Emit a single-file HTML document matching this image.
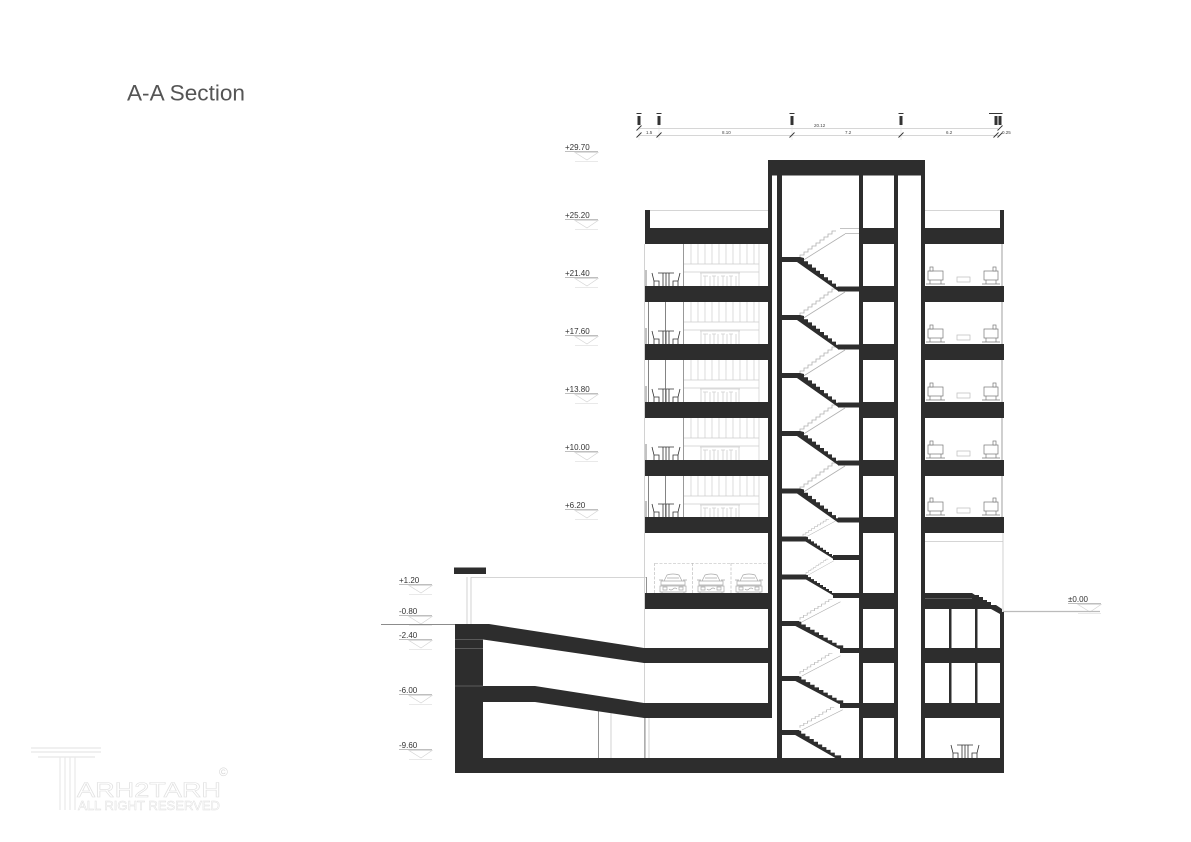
<!DOCTYPE html>
<html><head><meta charset="utf-8"><style>html,body{margin:0;padding:0;background:#fff}svg{display:block}text{font-family:"Liberation Sans",sans-serif}</style></head><body>
<svg width="1191" height="842" viewBox="0 0 1191 842" xmlns="http://www.w3.org/2000/svg">
<defs>
<path id="f" d="M-3,0H0l4,1v3.200h4v3.200h4v3.200h4v3.200h4v3.200h4v3.200h4v3.200h4v3.200h4v3.200H42V34H38L-3,5Z" fill="#2d2d2d"/>
<g id="l" fill="none" stroke="#b0b0b0" stroke-width=".8"><path d="M0,29v-3h4v-3h4v-3h4v-3h4v-3h4v-3h4v-3h4v-3h4v-3h4"/><path d="M2,32L45,5"/></g>
<g id="lev" fill="none"><path d="M0,4.500H33" stroke="#aaa" stroke-width=".7"/><path d="M10,5.500H33L22,13Z" stroke="#d4d4d4" stroke-width=".7"/><path d="M10,14.500H33" stroke="#e2e2e2" stroke-width=".7"/></g>
<g id="tc" fill="none" stroke="#333" stroke-width=".8"><path d="M6,3l2,8v5M8,11h5v5M34,3l-2,8v5M32,11h-5v5"/><path d="M12,3H28M17,3v13M20,3v13M23,3v13"/><path d="M0,0v16" stroke="#666"/></g>
<g id="st" fill="none" stroke="#cfcfcf" stroke-width=".8"><path d="M0,1H40M1,1V14M39,1V14M5,4V14M10,4V14M14,4V14M18,4V14M23,4V14M27,4V14M31,4V14M36,4V14M3,4H8M12,4H16M21,4H25M29,4H33"/></g>
<g id="rm" fill="none" stroke="#cdcdcd" stroke-width=".7"><path d="M691,0V20M698,0V20M705,0V20M712,0V20M719,0V20M726,0V20M733,0V20M740,0V20M747,0V20M754,0V20M759,0V42M684,20H759M684,28H759"/><path d="M683.500,0V42" stroke="#999" stroke-width="1"/><use href="#st" x="700" y="28"/></g>
<g id="so" fill="#fff" stroke="#777" stroke-width=".7"><rect x="928" y="-15" width="15" height="9"/><rect x="930" y="-19" width="3" height="4"/><path d="M930,-6V-2M941,-6V-2M926,-2H945" fill="none"/><rect x="957" y="-9" width="13" height="5" stroke="#bbb"/><rect x="984" y="-15" width="14" height="9"/><rect x="993" y="-19" width="3" height="4"/><path d="M986,-6V-2M996,-6V-2M982,-2H1000" fill="none"/></g>
<g id="car" fill="none" stroke="#a8a8a8" stroke-width=".7"><path d="M6,11L9,5Q15,3 21,5L24,11M1,10h4M25,10h4M3,11H27V15H3ZM9,8H21M2,16H28V22H2ZM4,22v1M26,22v1M5,17h4v3H5ZM21,17h4v3h-4ZM11,19q2,2 4,0t4,0"/></g>
<g id="fm" fill="#333"><rect x="-1.500" y="1" width="3" height="9"/><rect x="-2.500" y="-2" width="5" height="1"/></g>
<path id="tk" d="M-2.500,2.500L2.500,-2.500" stroke="#333" stroke-width=".9"/>
</defs>

<text x="127" y="100.500" font-size="22.500" fill="#555" textLength="118" lengthAdjust="spacingAndGlyphs">A-A Section</text>

<!-- top dimensions -->
<path d="M638,128.500H998M638,135.500H1000" stroke="#c9c9c9" stroke-width=".7"/>
<path d="M639,125V140M659,125V140M792,125V140M901,125V140" stroke="#ddd" stroke-width=".5"/>
<use href="#fm" x="639" y="115"/><use href="#fm" x="659" y="115"/><use href="#fm" x="792" y="115"/><use href="#fm" x="901" y="115"/><use href="#fm" x="996" y="115"/><use href="#fm" x="1000" y="115"/>
<rect x="989" y="113" width="6" height="1" fill="#333"/>
<use href="#tk" x="639" y="128"/><use href="#tk" x="639" y="135"/><use href="#tk" x="659" y="135"/><use href="#tk" x="792" y="135"/><use href="#tk" x="901" y="135"/><use href="#tk" x="996" y="135"/><use href="#tk" x="1000" y="135"/><use href="#tk" x="1000" y="128"/>
<g font-size="4.500" fill="#444">
<text x="646" y="134">1.5</text><text x="722" y="134">8.10</text><text x="845" y="134">7.2</text><text x="946" y="134">6.2</text><text x="1002" y="134">0.25</text><text x="814" y="127">20.12</text>
</g>

<!-- levels -->
<g font-size="8" fill="#333">
<text x="565" y="150">+29.70</text><text x="565" y="218">+25.20</text><text x="565" y="276">+21.40</text><text x="565" y="334">+17.60</text><text x="565" y="392">+13.80</text><text x="565" y="450">+10.00</text><text x="565" y="508">+6.20</text>
<text x="399" y="583">+1.20</text><text x="399" y="614">-0.80</text><text x="399" y="638">-2.40</text><text x="399" y="693">-6.00</text><text x="399" y="748">-9.60</text>
<text x="1068" y="602">±0.00</text>
</g>
<use href="#lev" x="565" y="147"/><use href="#lev" x="565" y="215"/><use href="#lev" x="565" y="273"/><use href="#lev" x="565" y="331"/><use href="#lev" x="565" y="389"/><use href="#lev" x="565" y="447"/><use href="#lev" x="565" y="505"/>
<use href="#lev" x="399" y="580"/><use href="#lev" x="399" y="611"/><use href="#lev" x="399" y="635"/><use href="#lev" x="399" y="690"/><use href="#lev" x="399" y="745"/>
<use href="#lev" x="1068" y="599"/>

<!-- light lines -->
<g fill="none" stroke="#c8c8c8" stroke-width=".8">
<path d="M650,210.500H768M925,210.500H1000M925,541.500H1003M644.500,244V758M1003,533V612"/>
<path d="M1003,611.500H1100" stroke-width="1.200" stroke="#bbb"/>
<path d="M1002,244V533" stroke-width="1.400" stroke="#bbb"/>
<path d="M467,577V624M471,577V624M471,577.500H646"/>
<path d="M611,713V758M649,718V758"/>
</g>
<path d="M646.500,577V593M598.500,711V758M645,718V758" stroke="#777" stroke-width=".8" fill="none"/>
<path d="M381,624.500H455" stroke="#666" stroke-width=".7"/>
<rect x="454" y="567.500" width="32" height="6.500" fill="#2d2d2d"/>

<!-- room interiors -->
<use href="#rm" x="0" y="244"/><use href="#rm" x="0" y="302"/><use href="#rm" x="0" y="360"/><use href="#rm" x="0" y="418"/><use href="#rm" x="0" y="476"/>
<use href="#tc" x="646" y="270"/><use href="#tc" x="646" y="328"/><use href="#tc" x="646" y="386"/><use href="#tc" x="646" y="444"/><use href="#tc" x="646" y="501"/>
<path d="M648.500,302V344M665.500,302V344M648.500,360V402M665.500,360V402M648.500,476V517M665.500,476V517" stroke="#666" stroke-width=".8" fill="none"/>
<use href="#so" x="0" y="286"/><use href="#so" x="0" y="344"/><use href="#so" x="0" y="402"/><use href="#so" x="0" y="460"/><use href="#so" x="0" y="517"/>
<use href="#tc" x="945" y="742"/>
<rect x="944" y="741" width="3" height="17" fill="#fff"/>

<!-- parking -->
<path d="M655,563.500H768M654.500,563V593M692.500,563V593M731,563V593" stroke="#b5b5b5" stroke-width=".6" stroke-dasharray="3 1.500" fill="none"/>
<use href="#car" x="658" y="570"/><use href="#car" x="696" y="570"/><use href="#car" x="734" y="570"/>

<!-- light stairs -->
<use href="#l" x="800" y="229"/><use href="#l" x="800" y="287"/><use href="#l" x="800" y="345"/><use href="#l" x="800" y="403"/><use href="#l" x="800" y="461"/>
<use href="#l" transform="translate(803,518) scale(.72,.62)"/>
<use href="#l" transform="translate(806,558) scale(.62,.55)"/>
<use href="#l" transform="translate(800,598) scale(.9,.75)"/>
<use href="#l" transform="translate(800,652) scale(.9,.75)"/>
<use href="#l" transform="translate(800,706) scale(.95,.75)"/>
<path d="M840,228.500H859M845,233.500H859" stroke="#b0b0b0" stroke-width=".7"/>

<!-- dark stairs -->
<g fill="#2d2d2d">
<use href="#f" x="800" y="257"/><use href="#f" x="800" y="315"/><use href="#f" x="800" y="373"/><use href="#f" x="800" y="431"/><use href="#f" x="800" y="488.500"/>
<use href="#f" transform="translate(805,536.500) scale(.75,.66)"/>
<use href="#f" transform="translate(805,574.500) scale(.75,.62)"/>
<use href="#f" transform="translate(797,621) scale(1.1,.82)"/>
<use href="#f" transform="translate(797,676) scale(1.1,.82)"/>
<use href="#f" transform="translate(797,730) scale(1.05,.85)"/>
<rect x="782" y="257" width="18" height="5"/><rect x="782" y="315" width="18" height="5"/><rect x="782" y="373" width="18" height="5"/><rect x="782" y="431" width="18" height="5"/><rect x="782" y="488.500" width="18" height="5"/>
<rect x="782" y="536.500" width="24" height="5"/><rect x="782" y="574.500" width="24" height="5"/><rect x="782" y="621" width="17" height="5"/><rect x="782" y="676" width="17" height="5"/><rect x="782" y="730" width="17" height="5"/>
<rect x="838" y="286.500" width="21" height="5"/><rect x="838" y="344.500" width="21" height="5"/><rect x="838" y="402.500" width="21" height="5"/><rect x="838" y="460.500" width="21" height="5"/><rect x="838" y="517.500" width="21" height="5"/>
<rect x="833" y="555" width="26" height="5"/><rect x="833" y="593" width="26" height="5"/><rect x="840" y="648" width="19" height="5"/><rect x="840" y="703" width="19" height="5"/>
</g>

<!-- structure -->
<g fill="#2d2d2d">
<rect x="768" y="160" width="157" height="15.500"/>
<rect x="768" y="175" width="4" height="543"/>
<rect x="777" y="175" width="5" height="598"/>
<rect x="859" y="175" width="4" height="585"/>
<rect x="894" y="175" width="4" height="585"/>
<rect x="921" y="175" width="4" height="585"/>
<rect x="645" y="210" width="5" height="20"/><rect x="1000" y="210" width="4" height="20"/>
<rect x="645" y="228" width="126" height="16"/><rect x="859" y="228" width="39" height="16"/><rect x="921" y="228" width="83" height="16"/>
<rect x="645" y="286" width="126" height="16"/><rect x="859" y="286" width="39" height="16"/><rect x="921" y="286" width="83" height="16"/>
<rect x="645" y="344" width="126" height="16"/><rect x="859" y="344" width="39" height="16"/><rect x="921" y="344" width="83" height="16"/>
<rect x="645" y="402" width="126" height="16"/><rect x="859" y="402" width="39" height="16"/><rect x="921" y="402" width="83" height="16"/>
<rect x="645" y="460" width="126" height="16"/><rect x="859" y="460" width="39" height="16"/><rect x="921" y="460" width="83" height="16"/>
<rect x="645" y="517" width="126" height="16"/><rect x="859" y="517" width="39" height="16"/><rect x="921" y="517" width="83" height="16"/>
<rect x="645" y="593" width="126" height="16"/><rect x="859" y="593" width="39" height="16"/>
<path d="M921,593H972l3,2h4v2h4v3h4v2h4v3h5l6,4V614h-2l-9,-5H921Z"/>
<rect x="1000" y="612" width="4" height="146"/>
<rect x="949" y="609" width="2.500" height="94"/><rect x="975" y="609" width="2.500" height="94"/>
<path d="M455,624H489L644,648H771V663H644L483,639.500V686H535L644,703H771V718H644L535,702H483V758H1004V773H455Z"/>
<rect x="859" y="648" width="39" height="15"/><rect x="921" y="648" width="83" height="15"/>
<rect x="859" y="703" width="39" height="15"/><rect x="921" y="703" width="83" height="15"/>
</g>
<path d="M455,639.500H483M455,648.500H483M455,686H483M925,598.500H972" stroke="#888" stroke-width=".5"/>

<!-- watermark -->
<g fill="none" stroke="#e8e8e8" stroke-width="1.200">
<path d="M31,748H101M31,752H101M38,757H95M60,757V810M65,757V810M70,757V810M75,757V810"/>
</g>
<text x="77" y="797" font-size="21" fill="#fff" stroke="#e0e0e0" stroke-width=".6" textLength="144" lengthAdjust="spacingAndGlyphs">ARH2TARH</text>
<text x="78" y="810" font-size="13" fill="#fff" stroke="#e0e0e0" stroke-width=".5" textLength="142" lengthAdjust="spacingAndGlyphs">ALL RIGHT RESERVED</text>
<text x="219" y="776" font-size="12" fill="#d8d8d8">©</text>
</svg>
</body></html>
